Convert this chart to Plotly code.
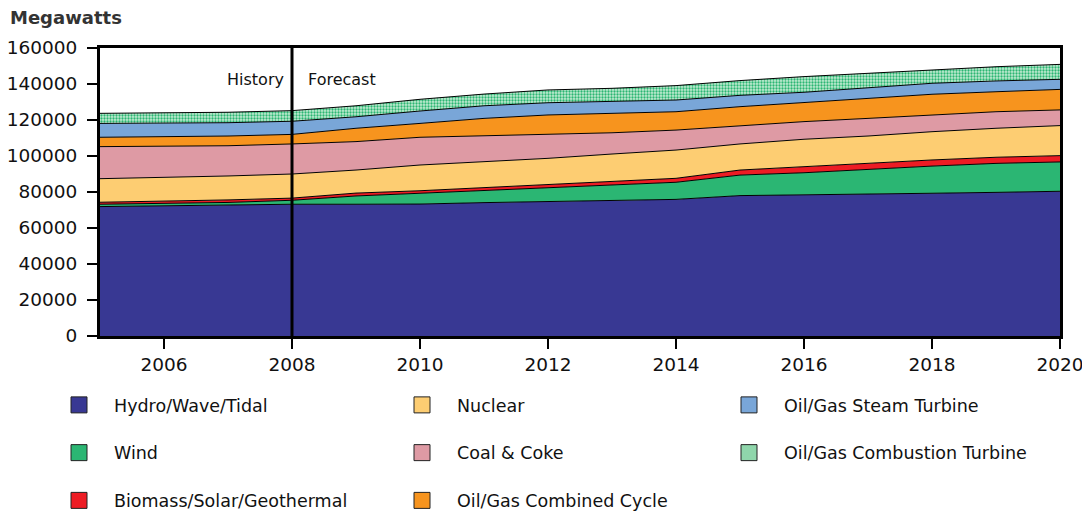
import plotly.graph_objects as go

years = list(range(2005, 2021))

hydro = [71900, 72400, 72900, 73200, 73200, 73300, 74100, 74600, 75000, 75900, 78000, 78300, 78700, 79300, 79800, 80400]
wind = [1300, 1100, 1300, 2200, 4600, 6000, 6600, 7800, 8900, 9500, 11400, 12400, 13900, 15100, 16100, 16300]
biomass = [1100, 1300, 1400, 1200, 1600, 1400, 1700, 1900, 2200, 2200, 2800, 3400, 3300, 3400, 3400, 3500]
nuclear = [13100, 13300, 13300, 13400, 12800, 14300, 14500, 14400, 15000, 15700, 14500, 15200, 15200, 15700, 16100, 16700]
coal = [17800, 17300, 16800, 16700, 15800, 15400, 14200, 13500, 11800, 11100, 10000, 9800, 9800, 9300, 9200, 8700]
combined = [5200, 5300, 5400, 5300, 7400, 7700, 9800, 10600, 10800, 10200, 10700, 10500, 11100, 11500, 11100, 11400]
steam = [7700, 7500, 7400, 7300, 6400, 6900, 7000, 6800, 6700, 6500, 6300, 5800, 5900, 6100, 6000, 5600]
combustion = [5600, 5700, 5800, 5900, 6100, 6500, 6500, 7100, 7200, 8000, 8200, 8700, 8000, 7700, 7900, 8300]

y_ticks = [0, 20000, 40000, 60000, 80000, 100000, 120000, 140000, 160000]
x_ticks = [2006, 2008, 2010, 2012, 2014, 2016, 2018, 2020]

FONT = "DejaVu Sans"

series = [
    ("Hydro/Wave/Tidal", hydro, "#383893", "legend", None),
    ("Wind", wind, "#2bb673", "legend", None),
    ("Biomass/Solar/Geothermal", biomass, "#ed1c24", "legend", None),
    ("Nuclear", nuclear, "#fdcd72", "legend2", None),
    ("Coal & Coke", coal, "#de9aa4", "legend2", None),
    ("Oil/Gas Combined Cycle", combined, "#f7941e", "legend2", None),
    ("Oil/Gas Steam Turbine", steam, "#79a6d8", "legend3", None),
    ("Oil/Gas Combustion Turbine", combustion, "#2bb673", "legend3", "pattern"),
]

# The page body has an 8px margin; the figure is sized so the plot box lands
# at page x 100..1060, y 48..336 as in the reference.
W, H = 1082, 506
L, T = 92, 40
PW, PH = 960, 288

fig = go.Figure()

for name, vals, color, leg, pat in series:
    kw = {}
    if pat:
        kw["fillpattern"] = dict(shape=".", fgcolor="#2bb673", bgcolor="#c4ecd3", size=3, solidity=0.45,
                                 fillmode="replace")
        kw["fillcolor"] = "#8fd6ab"
    else:
        kw["fillcolor"] = color
    fig.add_trace(go.Scatter(
        x=years, y=vals, name=name, mode="lines", stackgroup="one",
        line=dict(color="black", width=1), showlegend=False,
        hoverinfo="x+y+name", **kw))

for name, vals, color, leg, pat in series:
    mcolor = "#8fd6ab" if pat else color
    fig.add_trace(go.Scatter(
        x=[None], y=[None], name=name, mode="markers",
        marker=dict(symbol="square", size=16, color=mcolor, line=dict(color="#222222", width=1)),
        legend=leg, legendgroup=name, showlegend=True))

fig.add_shape(type="line", x0=2008, x1=2008, xref="x", y0=0, y1=1, yref="paper",
              line=dict(color="black", width=3), layer="above")

fig.add_annotation(x=2008, y=142500, xref="x", yref="y", text="History", showarrow=False,
                   xanchor="right", xshift=-6, font=dict(family=FONT, size=16, color="#111111"))
fig.add_annotation(x=2008, y=142500, xref="x", yref="y", text="Forecast", showarrow=False,
                   xanchor="left", xshift=14, font=dict(family=FONT, size=16, color="#111111"))
fig.add_annotation(x=(0 - L) / PW, y=(T + PH - 10) / PH, xref="paper", yref="paper",
                   text="<b>Megawatts</b>", showarrow=False, xanchor="left", yanchor="middle",
                   font=dict(family=FONT, size=18, color="#333333"))

leg_common = dict(orientation="v", xanchor="left", yanchor="top", bgcolor="rgba(0,0,0,0)",
                  font=dict(family=FONT, size=17.5, color="#111111"), tracegroupgap=22,
                  itemsizing="trace", itemwidth=60)
ly = -(379 - (T + PH)) / PH
fig.update_layout(
    width=W, height=H,
    margin=dict(l=L, r=W - L - PW, t=T, b=H - T - PH, autoexpand=False),
    plot_bgcolor="white", paper_bgcolor="white",
    font=dict(family=FONT, size=18, color="#111111"),
    showlegend=True,
    legend=dict(x=(36 - L) / PW, y=ly, **leg_common),
    legend2=dict(x=(379 - L) / PW, y=ly, **leg_common),
    legend3=dict(x=(706 - L) / PW, y=ly, **leg_common),
    xaxis=dict(range=[2005, 2020], tickvals=x_ticks, ticks="outside", ticklen=10, tickwidth=1.5,
               tickcolor="black", showline=True, linecolor="black", linewidth=3, mirror=True,
               showgrid=False, zeroline=False, tickfont=dict(family=FONT, size=18.5)),
    yaxis=dict(range=[0, 160000], tickvals=y_ticks, ticks="outside", ticklen=10, tickwidth=1.5,
               tickcolor="black", showline=True, linecolor="black", linewidth=3, mirror=True,
               showgrid=False, zeroline=False, tickformat="d", ticklabelstandoff=6,
               tickfont=dict(family=FONT, size=18.5)),
    hovermode="x",
)

fig.write_html("out.html")
